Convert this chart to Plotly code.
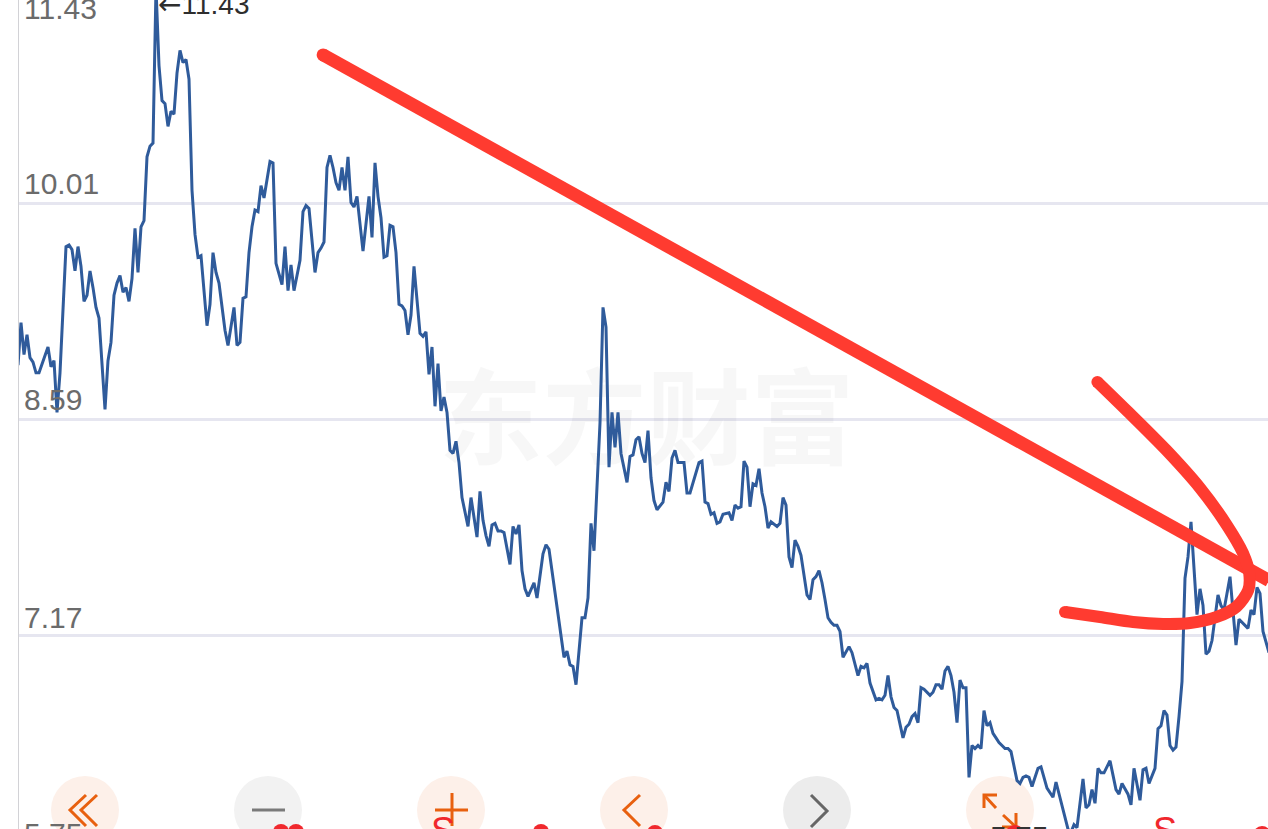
import plotly.graph_objects as go

W, H = 1268, 829
days = [-1,0,1,2,3,4,5,6,9,10,11,12,13,15,16,17,18,19,20,21,22,23,24,25,26,28,29,30,31,32,33,34,35,36,37,38,39,40,41,42,43,44,45,46,47,48,49,50,51,52,53,54,55,56,57,58,59,60,62,63,64,65,66,68,69,71,72,73,74,75,76,77,78,79,80,81,83,84,85,87,88,89,90,91,93,94,95,96,98,99,100,101,102,103,104,105,106,107,108,109,110,111,112,113,114,116,117,118,119,120,121,122,123,124,125,126,127,128,129,130,131,133,134,135,136,137,138,139,140,141,142,143,144,145,146,147,148,149,150,152,153,154,155,156,157,158,159,160,161,163,164,165,166,167,168,169,171,172,174,175,176,178,179,180,181,182,183,184,185,187,188,189,190,191,193,194,195,196,197,198,199,200,202,203,204,205,206,207,208,209,210,211,212,214,215,216,217,218,219,221,222,223,226,227,228,229,230,231,232,233,234,236,237,238,239,240,241,242,243,244,245,246,247,248,249,250,252,253,254,255,256,257,258,259,260,262,263,264,265,266,267,268,269,270,271,272,273,274,276,277,279,280,281,282,283,285,286,287,288,289,290,291,292,294,295,296,297,298,299,300,301,303,304,305,306,307,308,309,310,311,312,313,314,315,316,317,318,319,320,321,322,323,324,325,326,327,328,329,330,332,333,334,335,336,337,339,340,342,343,344,345,347,348,349,350,351,352,354,355,356,357,358,359,360,361,362,363,365,366,367,368,369,370,371,373,374,375,376,378,379,380,381,382,383,384,385,386,387,388,389,390,391,392,393,394,395,396,397,399,400,401,403,405,406,407,409,410,411,412,413,414,416]
prices = [8.95,9.23,9.02,9.15,9.00,8.97,8.90,8.90,9.07,8.94,8.98,8.64,8.90,9.73,9.74,9.71,9.57,9.73,9.60,9.37,9.41,9.57,9.46,9.33,9.26,8.66,8.98,9.10,9.41,9.49,9.54,9.43,9.46,9.37,9.52,9.85,9.56,9.86,9.90,10.32,10.39,10.41,11.43,10.92,10.69,10.67,10.52,10.62,10.60,10.87,11.02,10.94,10.96,10.83,10.10,9.81,9.66,9.67,9.21,9.35,9.69,9.56,9.49,9.18,9.08,9.33,9.08,9.10,9.39,9.40,9.69,9.86,9.97,9.96,10.13,10.05,10.29,10.28,9.62,9.48,9.73,9.44,9.61,9.44,9.64,9.96,10.00,9.98,9.56,9.69,9.72,9.76,10.25,10.33,10.25,10.15,10.10,10.25,10.10,10.32,10.02,9.99,10.06,9.90,9.70,10.06,9.79,10.28,10.06,9.92,9.66,9.67,9.87,9.86,9.69,9.35,9.34,9.31,9.15,9.28,9.60,9.16,9.14,9.17,8.89,9.07,8.68,8.96,8.65,8.74,8.64,8.39,8.37,8.45,8.31,8.08,7.98,7.89,8.08,7.82,8.12,7.93,7.83,7.76,7.90,7.91,7.86,7.86,7.85,7.64,7.89,7.84,7.90,7.60,7.48,7.43,7.52,7.42,7.71,7.77,7.74,7.46,7.34,7.19,7.03,7.07,6.98,6.97,6.85,7.29,7.29,7.42,7.91,7.73,8.57,9.33,9.20,8.28,8.64,8.41,8.64,8.37,8.18,8.35,8.36,8.46,8.48,8.37,8.31,8.52,8.21,8.06,8.00,8.05,8.18,8.12,8.34,8.39,8.31,8.31,8.11,8.11,8.31,8.32,8.05,8.04,7.97,7.98,7.91,7.92,7.97,7.98,7.93,8.03,8.01,8.02,8.32,8.28,8.02,8.17,8.16,8.27,8.11,8.02,7.88,7.92,7.89,7.91,8.08,8.03,7.69,7.62,7.80,7.76,7.70,7.44,7.41,7.54,7.56,7.60,7.52,7.41,7.29,7.26,7.24,7.24,7.20,7.03,7.10,7.06,6.91,6.97,6.96,6.99,6.86,6.75,6.76,6.75,6.78,6.91,6.77,6.70,6.68,6.50,6.57,6.59,6.64,6.66,6.60,6.83,6.82,6.78,6.80,6.85,6.85,6.82,6.94,6.97,6.91,6.80,6.60,6.88,6.83,6.83,6.24,6.45,6.43,6.45,6.43,6.68,6.58,6.60,6.53,6.50,6.47,6.45,6.43,6.43,6.41,6.22,6.20,6.24,6.25,6.24,6.18,6.30,6.31,6.17,6.14,6.11,6.21,6.05,5.96,5.90,5.88,5.93,5.91,6.23,6.04,6.06,6.16,6.07,6.30,6.27,6.27,6.31,6.35,6.16,6.13,6.20,6.16,6.13,6.06,6.30,6.09,6.29,6.30,6.20,6.30,6.56,6.58,6.68,6.65,6.45,6.42,6.44,6.64,6.87,7.55,7.69,7.92,7.62,7.31,7.48,7.37,7.05,7.07,7.14,7.44,7.37,7.34,7.56,7.11,7.28,7.26,7.22,7.34,7.31,7.49,7.45,7.20,7.06]
tick_labels = ["11.43", "10.01", "8.59", "7.17", "5.75"]
grid_values = [10.01, 8.59, 7.17]
peak_value = "11.43"
watermark = "东方财富"
stroke_line_days = [100.7, 416]
stroke_line_prices = [10.99, 7.535]
stroke_curve_days = [358.8, 369, 381.7, 393, 401.9, 407.3, 409.4, 409.1, 405.2, 398.6, 389.7, 380.7, 370.7, 359.7, 348]
stroke_curve_prices = [8.84, 8.644, 8.393, 8.143, 7.90, 7.716, 7.584, 7.472, 7.363, 7.295, 7.255, 7.249, 7.262, 7.295, 7.328]

Y_TOP, Y_BOT = 11.351, 5.901
LINE = "#2f5b9b"
RED = "#ff3b30"
ORANGE = "#e8600f"
GREY = "#6b6b6b"


def fx(x):
    return x / W


def fy(y):
    return 1 - y / H


def polyline(pts, color, width=3):
    path = "M " + " L ".join(f"{fx(x):.5f} {fy(y):.5f}" for x, y in pts)
    return dict(type="path", xref="paper", yref="paper", path=path, layer="above",
                line=dict(color=color, width=width))


def disc(cx, cy, r, color, layer="below"):
    return dict(type="circle", xref="paper", yref="paper", layer=layer,
                x0=fx(cx - r), x1=fx(cx + r), y0=fy(cy + r), y1=fy(cy - r),
                fillcolor=color, line=dict(width=0))


fig = go.Figure()
fig.add_trace(go.Scatter(x=[208.5], y=[8.515], mode="text", text=["<b>" + watermark + "</b>"], hoverinfo="skip",
                         textfont=dict(family="Noto Sans CJK SC", size=104, color="rgba(0,0,0,0.03)")))
fig.add_trace(go.Scatter(x=days, y=prices, mode="lines", line=dict(color=LINE, width=3, shape="linear")))
fig.add_trace(go.Scatter(x=stroke_line_days, y=stroke_line_prices, mode="lines+markers",
                         line=dict(color=RED, width=13),
                         marker=dict(color=RED, opacity=1, size=[13, 0], line=dict(width=0))))
fig.add_trace(go.Scatter(x=stroke_curve_days, y=stroke_curve_prices, mode="lines+markers",
                         line=dict(color=RED, width=12, shape="spline", smoothing=0.8),
                         marker=dict(color=RED, opacity=1, size=[12] + [0] * 13 + [12], line=dict(width=0))))

shapes = [
    disc(85, 810, 34, "#fdf0e9"), disc(268, 810, 34, "#f2f2f2"), disc(451, 810, 34, "#fdf0e9"),
    disc(634, 810, 34, "#fdf0e9"), disc(817, 810, 34, "#ececec"), disc(1000, 810, 34, "#fdf0e9"),
    polyline([(86, 795), (70, 810), (86, 826)], ORANGE),
    polyline([(97, 795), (81, 810), (97, 826)], ORANGE),
    polyline([(252, 810), (285, 810)], "#7a7a7a"),
    polyline([(435, 810), (468, 810)], ORANGE),
    polyline([(452, 793), (452, 826)], ORANGE),
    polyline([(640, 795), (624, 810), (640, 826)], ORANGE),
    polyline([(811, 795), (827, 811), (811, 827)], "#666666"),
    polyline([(984, 808), (984, 795), (997, 795)], ORANGE),
    polyline([(984, 795), (996, 808)], ORANGE),
    polyline([(1003, 815), (1016, 827)], ORANGE),
    polyline([(1016, 813), (1016, 827), (1002, 827)], ORANGE),
]

annotations = []
label_centres = [8, 184, 400, 617, 833]
for lab, cy in zip(tick_labels, label_centres):
    annotations.append(dict(xref="paper", yref="paper", x=fx(22), y=fy(cy), text=lab, showarrow=False,
                            xanchor="left", yanchor="middle",
                            font=dict(family="Liberation Sans", size=30, color=GREY)))
annotations.append(dict(xref="paper", yref="paper", x=fx(156), y=fy(4), showarrow=False,
                        text='<span style="font-family:DejaVu Sans">←</span>' + peak_value,
                        xanchor="left", yanchor="middle",
                        font=dict(family="Liberation Sans", size=28, color="#2e2e2e")))
annotations.append(dict(xref="paper", yref="paper", x=fx(1019), y=fy(836), text="5.75", showarrow=False,
                        xanchor="center", yanchor="middle",
                        font=dict(family="Liberation Sans", size=30, color="#333333")))
for sx in (443, 1165):
    annotations.append(dict(xref="paper", yref="paper", x=fx(sx), y=fy(830), text="S", showarrow=False,
                            xanchor="center", yanchor="middle",
                            font=dict(family="Liberation Sans", size=36, color="#f0282d")))

fig.update_layout(
    width=W, height=H, margin=dict(l=0, r=0, t=0, b=0), showlegend=False,
    paper_bgcolor="white", plot_bgcolor="white", shapes=shapes, annotations=annotations,
    hovermode=False,
    xaxis=dict(domain=[19 / W, 1], range=[-2 / 3, 1247 / 3], visible=False, fixedrange=True),
    yaxis=dict(range=[Y_BOT, Y_TOP], tickmode="array", tickvals=grid_values, showticklabels=False,
               showgrid=True, gridcolor="#e6e6f0", gridwidth=2.5, zeroline=False, ticks="",
               showline=True, linecolor="#d2d2d6", linewidth=1, fixedrange=True),
)
for cx, cy, r in [(281, 832, 8), (296, 832, 8), (541, 832, 8), (655, 833, 8), (1015, 835, 10), (1262, 835, 9)]:
    fig.add_shape(disc(cx, cy, r, "#f0282d", "above"))
fig.write_html("out.html", config=dict(displayModeBar=False),
               post_script="document.body.style.margin='0';document.body.style.overflow='hidden';")
